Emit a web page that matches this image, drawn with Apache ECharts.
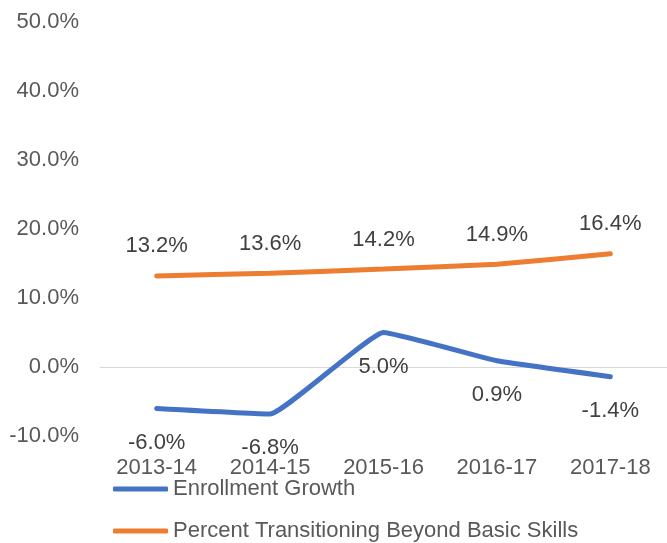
<!DOCTYPE html>
<html>
<head>
<meta charset="utf-8">
<script src="https://cdn.jsdelivr.net/npm/echarts@6/dist/echarts.min.js"></script>
<style>
  html, body { margin: 0; padding: 0; background: #fff; }
  #chart { width: 667px; height: 543px; }
</style>
</head>
<body>
<div id="chart"></div>
<script>
var years = ['2013-14', '2014-15', '2015-16', '2016-17', '2017-18'];
var enrollmentGrowth = [-6.0, -6.8, 5.0, 0.9, -1.4];
var beyondBasic = [13.2, 13.6, 14.2, 14.9, 16.4];
var yTicks = [-10, 0, 10, 20, 30, 40, 50];

var chart = echarts.init(document.getElementById('chart'));
var font = "'Liberation Sans', Arial, sans-serif";
var pct = function (v) { return v.toFixed(1) + '%'; };

var option = {
  animation: false,
  color: ['#4472C4', '#ED7D31'],
  grid: { left: 100, right: -7, top: 22, bottom: 107 },
  legend: {
    orient: 'vertical',
    left: 108,
    top: 473,
    height: 120,
    itemWidth: 55,
    itemHeight: 5,
    itemGap: 20,
    icon: 'roundRect',
    textStyle: { color: '#595959', fontSize: 22, fontFamily: font },
    data: ['Enrollment Growth', 'Percent Transitioning Beyond Basic Skills']
  },
  xAxis: [{
    type: 'category',
    data: years,
    axisLine: { show: false, onZero: false },
    axisTick: { show: false },
    axisLabel: { color: '#595959', fontSize: 22, fontFamily: font, margin: 21 }
  }, {
    type: 'category',
    data: years,
    axisLine: { show: true, onZero: true, lineStyle: { color: '#d9d9d9', width: 1 } },
    axisTick: { show: false },
    axisLabel: { show: false }
  }],
  yAxis: {
    type: 'value',
    min: yTicks[0],
    max: yTicks[yTicks.length - 1],
    interval: 10,
    splitLine: { show: false },
    axisLine: { show: false },
    axisTick: { show: false },
    axisLabel: { color: '#595959', fontSize: 22, fontFamily: font, margin: 21, formatter: pct }
  },
  series: [{
    name: 'Enrollment Growth',
    type: 'line',
    data: enrollmentGrowth,
    smooth: 0.1,
    symbol: 'circle',
    symbolSize: 1,
    lineStyle: { width: 5, cap: 'round' },
    label: {
      show: true, position: 'bottom', distance: 23,
      color: '#404040', fontSize: 22, fontFamily: font,
      formatter: function (p) { return pct(p.value); }
    }
  }, {
    name: 'Percent Transitioning Beyond Basic Skills',
    type: 'line',
    data: beyondBasic,
    smooth: 0.1,
    symbol: 'circle',
    symbolSize: 1,
    lineStyle: { width: 5, cap: 'round' },
    label: {
      show: true, position: 'top', distance: 18,
      color: '#404040', fontSize: 22, fontFamily: font,
      formatter: function (p) { return pct(p.value); }
    }
  }]
};
chart.setOption(option);
</script>
</body>
</html>
